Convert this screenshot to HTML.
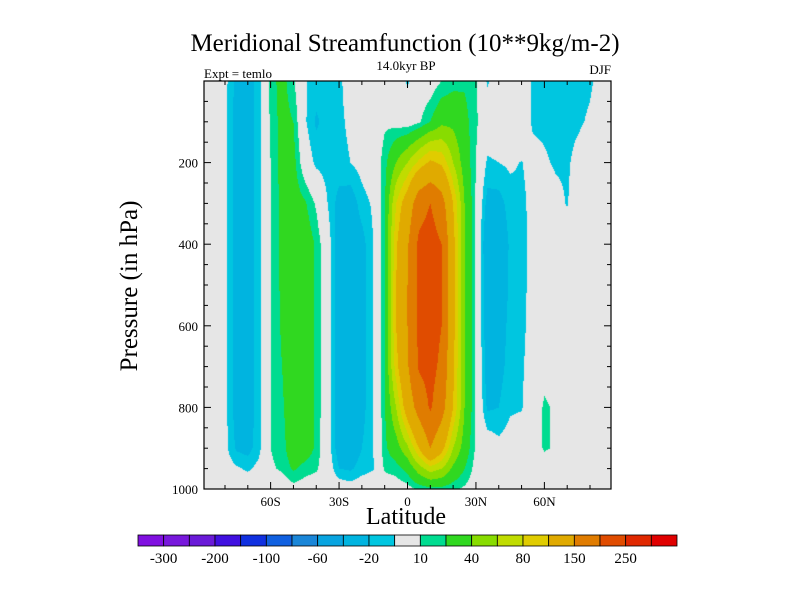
<!DOCTYPE html>
<html><head><meta charset="utf-8"><style>
body{margin:0;background:#fff;width:800px;height:600px;overflow:hidden;position:relative;font-family:"Liberation Serif",serif}
.t{position:absolute;white-space:nowrap;color:#000}
</style></head><body>
<div class="t" style="left:0;width:810px;text-align:center;top:30px;font-size:25px">Meridional Streamfunction (10**9kg/m-2)</div>
<div class="t" style="left:204px;top:66px;font-size:13px">Expt = temlo</div>
<div class="t" style="left:306px;width:200px;text-align:center;top:58px;font-size:13px">14.0kyr BP</div>
<div class="t" style="left:580px;width:31px;text-align:right;top:62px;font-size:13px">DJF</div>
<div class="t" style="left:130px;top:286px;font-size:25px;transform:translate(-50%,-50%) rotate(-90deg)">Pressure (in hPa)</div>
<div class="t" style="left:306px;width:200px;text-align:center;top:504px;font-size:24px">Latitude</div>
<canvas id="cv" width="407" height="408" style="position:absolute;left:204px;top:81px"></canvas>
<svg id="ov" width="800" height="600" style="position:absolute;left:0;top:0"></svg>
<script>
const lats=[-90,-85,-80,-75,-70,-65,-60,-55,-50,-45,-40,-35,-30,-25,-20,-15,-10,-5,0,5,10,15,20,25,30,35,40,45,50,55,60,65,70,75,80,85,90];
const pres=[0,100,200,300,400,500,600,700,800,900,950,1000];
// field columns: one array per latitude, values at each pressure level
const colM90=[0,0,0,0,0,0,0,0,0,0,0,0];
const colM85=[0,0,0,0,0,0,0,0,0,0,0,0];
const colM80=[-6,-6,-6,-6,-6,-6,-6,-6,-6,-6,-3,0];
const colM75=[-24,-26,-27,-27,-27,-27,-27,-27,-26,-22,-8,0];
const colM70=[-26,-28,-28,-28,-28,-28,-28,-28,-28,-25,-12,0];
const colM65=[-14,-14,-14,-14,-14,-14,-14,-14,-14,-13,-6,0];
const colM60=[15,12,10,10,10,10,10,10,10,10,8,0];
const colM55=[25,25,25,24,24,23,22,20,18,15,12,0];
const colM50=[12,20,25,28,30,30,30,30,30,30,22,5];
const colM45=[-9,-8,0,22,30,30,30,30,30,30,15,3];
const colM40=[-14,-22,-13,8,18,18,18,18,18,17,12,0];
const colM35=[-14,-15,-15,-10,-3,-3,-3,-3,-3,-3,0,0];
const colM30=[-12,-12,-13,-25,-28,-28,-28,-28,-28,-28,-20,0];
const colM25=[-5,-8,-10,-28,-30,-30,-30,-30,-30,-30,-22,-3];
const colM20=[0,0,-5,-15,-25,-25,-25,-25,-25,-20,-15,0];
const colM15=[0,0,0,-8,-10,-10,-10,-10,-10,-10,-11,0];
const colM10=[0,8,15,18,18,18,18,18,18,17,12,0];
const colM05=[0,5,40,80,95,100,100,90,60,30,15,2];
const col000=[-12,2,60,120,145,150,150,145,120,55,25,5];
const colP05=[0,8,85,180,210,210,210,205,170,100,50,12];
const colP10=[2,20,105,200,220,220,220,215,205,150,70,15];
const colP15=[10,35,95,170,200,200,200,190,170,110,60,15];
const colP20=[15,35,60,100,110,110,110,105,100,60,35,12];
const colP25=[18,25,30,40,40,40,40,40,40,30,20,8];
const colP30=[12,12,10,8,8,8,8,8,8,8,5,3];
const colP35=[-12,0,-12,-25,-35,-32,-30,-28,-22,0,0,0];
const colP40=[0,0,-10,-25,-32,-30,-28,-25,-20,-6,0,0];
const colP45=[0,0,-8,-15,-18,-18,-16,-15,-12,-3,0,0];
const colP50=[0,0,-10.5,-13,-14,-14,-13,-12,-11,0,0,0];
const colP55=[-12,-12,-5,-6,-5,-5,-5,-3,0,0,0,0];
const colP60=[-14,-13,-8,0,0,0,0,5,12,12,0,0];
const colP65=[-15,-14,-12,-5,0,0,0,3,8,8,0,0];
const colP70=[-15,-14,-12,-11,0,0,0,0,0,0,0,0];
const colP75=[-14,-12,-5,0,0,0,0,0,0,0,0,0];
const colP80=[-12,-8,0,0,0,0,0,0,0,0,0,0];
const colP85=[-5,0,0,0,0,0,0,0,0,0,0,0];
const colP90=[0,0,0,0,0,0,0,0,0,0,0,0];
const field=[colM90,colM85,colM80,colM75,colM70,colM65,colM60,colM55,colM50,colM45,colM40,colM35,colM30,colM25,colM20,colM15,colM10,colM05,col000,colP05,colP10,colP15,colP20,colP25,colP30,colP35,colP40,colP45,colP50,colP55,colP60,colP65,colP70,colP75,colP80,colP85,colP90];
const levels=[-300,-250,-200,-150,-100,-80,-60,-40,-20,-10,10,20,40,60,80,100,150,200,250,300];
const levelLabels=["-300","-200","-100","-60","-20","10","40","80","150","250"];
const colors=["#8010e0","#7818dc","#6a1ad8","#4010e0","#1030e0","#1060e0","#1a86d8","#08a4e0","#00b4e0","#00c6e0","#e6e6e6","#00dc90","#30d820","#88dc00","#c0dc00","#e0cc00","#e0aa00","#e07c00","#e04c00","#e02800","#e00000"];
const xTicksMajor=[-60,-30,0,30,60];
const xTickLabels=["60S","30S","0","30N","60N"];
const yTicksMajor=[200,400,600,800,1000];

const PX0=204,PX1=611,PY0=81,PY1=489,LAT0=-89.2,LAT1=89.2;
function xs(l){return PX0+(l-LAT0)/(LAT1-LAT0)*(PX1-PX0);}
function ys(p){return PY0+p/1000*(PY1-PY0);}
function idx(arr,v){let i=0;while(i<arr.length-2&&v>arr[i+1])i++;return [i,Math.max(0,Math.min(1,(v-arr[i])/(arr[i+1]-arr[i])))];}
function val(l,p){const [i,fx]=idx(lats,l),[j,fy]=idx(pres,p);
 const a=field[i][j],b=field[i+1][j],c=field[i][j+1],d=field[i+1][j+1];
 return a*(1-fx)*(1-fy)+b*fx*(1-fy)+c*(1-fx)*fy+d*fx*fy;}
function colorOf(v){let k=0;while(k<levels.length&&v>=levels[k])k++;return colors[k];}
const cv=document.getElementById('cv'),ctx=cv.getContext('2d');
for(let py=0;py<408;py++){for(let px=0;px<407;px++){
 const l=LAT0+(px+0.5)/407*(LAT1-LAT0),p=(py+0.5)/408*1000;
 ctx.fillStyle=colorOf(val(l,p));ctx.fillRect(px,py,1,1);}}

const NS='http://www.w3.org/2000/svg',sv=document.getElementById('ov');
function mk(t,a,txt){const e=document.createElementNS(NS,t);for(const k in a)e.setAttribute(k,a[k]);if(txt!==undefined)e.textContent=txt;sv.appendChild(e);return e;}
let e=mk('rect',{x:PX0,y:PY0,width:PX1-PX0,height:PY1-PY0,fill:'none',stroke:'#000','stroke-width':1.2});


for(let l=-80;l<=80;l+=10){const maj=xTicksMajor.includes(l),len=maj?7:4;
 mk('line',{x1:xs(l),x2:xs(l),y1:PY1,y2:PY1-len,stroke:'#000'});
 mk('line',{x1:xs(l),x2:xs(l),y1:PY0,y2:PY0+len,stroke:'#000'});}
xTicksMajor.forEach((l,i)=>{e=mk('text',{x:xs(l),y:PY1+17,'text-anchor':'middle','font-size':13,'font-family':'Liberation Serif, serif'},xTickLabels[i]);
 
 });
for(let p=50;p<=1000;p+=50){const maj=yTicksMajor.includes(p),len=maj?7:4;
 mk('line',{x1:PX0,x2:PX0+len,y1:ys(p),y2:ys(p),stroke:'#000'});
 mk('line',{x1:PX1,x2:PX1-len,y1:ys(p),y2:ys(p),stroke:'#000'});}
yTicksMajor.forEach(p=>{e=mk('text',{x:PX0-6,y:ys(p)+5,'text-anchor':'end','font-size':13,'font-family':'Liberation Serif, serif'},String(p));
 
 });
const CB0=138,CB1=677,CBY=535,CBH=11,bw=(CB1-CB0)/colors.length;
colors.forEach((c,i)=>{e=mk('rect',{x:CB0+i*bw,y:CBY,width:bw,height:CBH,fill:c,stroke:'#000','stroke-width':0.8});
 
 });
levelLabels.forEach((t,i)=>{e=mk('text',{x:CB0+(2*i+1)*bw,y:CBY+28,'text-anchor':'middle','font-size':15,'font-family':'Liberation Serif, serif'},t);
 
 });
</script>
</body></html>
